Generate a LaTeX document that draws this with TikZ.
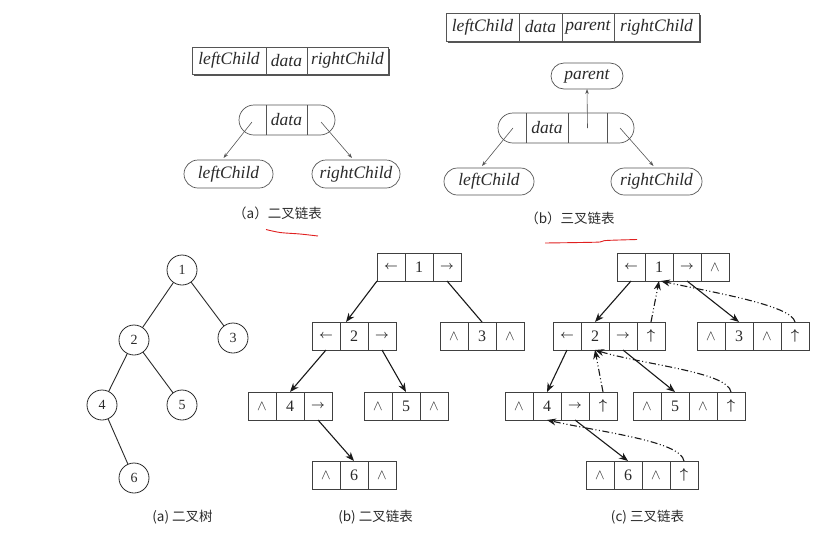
\documentclass[tikz,border=0pt]{standalone}
\usepackage{fontspec}
\setmainfont{Liberation Serif}
\newfontfamily\cjk{Noto Sans CJK SC}
\usetikzlibrary{arrows.meta,shapes.misc}
\definecolor{linegray}{HTML}{555555}
\definecolor{txtgray}{HTML}{2A2A2A}
\definecolor{cellgray}{HTML}{404040}
\definecolor{redline}{HTML}{E02020}
\newcommand\myla{{\fontsize{12.5}{13}\selectfont\boldmath$\leftarrow$}}
\newcommand\myra{{\fontsize{12.5}{13}\selectfont\boldmath$\rightarrow$}}
\newcommand\mywg{{\fontsize{14.5}{15}\selectfont$\wedge$}}
\newcommand\myup{{\fontsize{13.5}{14}\selectfont\boldmath$\uparrow$}}
\begin{document}
\begin{tikzpicture}[x=1pt,y=-1pt,
  every node/.style={inner sep=0pt, outer sep=0pt},
  itx/.style={font=\fontsize{17.5}{20}\selectfont\itshape, text=txtgray},
  topcell/.style={itx, draw=linegray, line width=0.7pt, minimum height=28pt},
  pill/.style={itx, draw=linegray, line width=0.7pt, rounded rectangle, minimum height=28pt},
  divider/.style={draw=linegray, line width=0.7pt},
  cell/.style={draw=cellgray, line width=0.75pt, minimum width=28pt, minimum height=28pt,
    font=\fontsize{16}{18}\selectfont, text=txtgray},
  tnode/.style={circle, draw=txtgray, minimum size=30pt, line width=0.8pt,
    font=\fontsize{14}{16}\selectfont, text=txtgray},
  treeline/.style={draw=txtgray, line width=0.9pt},
  plainlink/.style={draw=black!90, line width=1.1pt},
  link/.style={plainlink, -{Stealth[length=9pt,width=7pt]}},
  plink/.style={link, dash pattern=on 7pt off 2.5pt on 1pt off 2.5pt on 1pt off 2.5pt},
  thinarrow/.style={-{Stealth[length=5pt,width=3.5pt]}, line width=0.6pt, draw=linegray},
  captxt/.style={font=\cjk\fontsize{13.5}{15}\selectfont, text=txtgray},
  hand/.style={draw=redline, line width=0.9pt}
]
\useasboundingbox (0,0) rectangle (830,536);

% ---------- top (a) ----------
\node[topcell, minimum width=74pt, minimum height=27pt] (atl) at (229,60.5) {leftChild};
\node[topcell, minimum width=41pt, minimum height=27pt] (atd) at (286.5,60.5) {data};
\node[topcell, minimum width=81pt, minimum height=27pt] (atr) at (347.5,60.5) {rightChild};
\draw[linegray, line width=0.6pt] ([xshift=1.5pt,yshift=-1.5pt]atl.south west) -- ([xshift=1.5pt,yshift=-1.5pt]atr.south east) -- ([xshift=1.5pt,yshift=-1.5pt]atr.north east);

\node[pill, minimum width=96pt, minimum height=30pt] (an) at (287,120) {};
\node[itx, minimum width=41pt, minimum height=30pt] (and) at (286.5,120) {data};
\draw[divider] (and.north west) -- (and.south west) (and.north east) -- (and.south east);
\node[pill, minimum width=89pt] (alc) at (228.5,174) {leftChild};
\node[pill, minimum width=88pt] (arc) at (356,174) {rightChild};
\draw[thinarrow] ([xshift=13pt,yshift=-2pt]an.west) -- ([xshift=-5pt,yshift=2pt]alc.north);
\draw[thinarrow] ([xshift=-14pt,yshift=-2pt]an.east) -- ([xshift=-4pt,yshift=2pt]arc.north);
\node[captxt] (acap) at (277.5,213) {（a）二叉链表};
\draw[hand] plot[smooth] coordinates {(266,229.5) (280,232.5) (300,234) (318,236)};

% ---------- top (b) ----------
\node[topcell, minimum width=73pt] (btl) at (482.5,27) {leftChild};
\node[topcell, minimum width=43pt] (btd) at (540.5,27) {data};
\node[topcell, minimum width=52pt] (btp) at (588,27) {parent};
\node[topcell, minimum width=85pt] (btr) at (656.5,27) {rightChild};
\draw[linegray, line width=0.6pt] ([xshift=1.5pt,yshift=-1.5pt]btl.south west) -- ([xshift=1.5pt,yshift=-1.5pt]btr.south east) -- ([xshift=1.5pt,yshift=-1.5pt]btr.north east);

\node[pill, minimum width=136pt, minimum height=30pt] (bn) at (566,128) {};
\node[itx, minimum width=42pt, minimum height=30pt] (bnd) at (547,128) {data};
\node[minimum width=39pt, minimum height=30pt] (bnp) at (587.5,128) {};
\draw[divider] (bnd.north west) -- (bnd.south west) (bnd.north east) -- (bnd.south east)
  (bnp.north east) -- (bnp.south east);
\node[pill, minimum width=72pt, minimum height=26pt] (bpar) at (587,76) {parent};
\node[pill, minimum width=90pt, minimum height=27pt] (blc) at (489,181.5) {leftChild};
\node[pill, minimum width=91pt, minimum height=27pt] (brc) at (656.5,181.5) {rightChild};
\draw[thinarrow] (bnp.center) -- (bpar.south);
\draw[thinarrow] ([xshift=15pt]bn.west) -- ([xshift=-7pt,yshift=2pt]blc.north);
\draw[thinarrow] ([xshift=-14pt]bn.east) -- ([xshift=-3pt,yshift=2pt]brc.north);
\node[captxt] (bcap) at (570,218) {（b）三叉链表};
\draw[hand] plot[smooth] coordinates {(545,243) (580,242.5) (600,242) (606,240.5) (637,239.5)};

% ---------- bottom (a) tree ----------
\node[tnode] (t1) at (182,270) {1};
\node[tnode] (t2) at (134,340) {2};
\node[tnode] (t3) at (233,338) {3};
\node[tnode] (t4) at (102,405) {4};
\node[tnode] (t5) at (182,405) {5};
\node[tnode] (t6) at (134,478) {6};
\draw[treeline] (t1) -- (t2);
\draw[treeline] (t1) -- (t3);
\draw[treeline] (t2) -- (t4);
\draw[treeline] (t2) -- (t5);
\draw[treeline] (t4) -- (t6);
\node[captxt] (tcap) at (182.5,517) {(a) 二叉树};

% ---------- bottom (b) binary linked list ----------
\node[cell] (b1a) at (391,267) {\myla};
\node[cell] (b1b) at (419,267) {1};
\node[cell] (b1c) at (447,267) {\myra};
\node[cell] (b2a) at (326,336) {\myla};
\node[cell] (b2b) at (354,336) {2};
\node[cell] (b2c) at (382,336) {\myra};
\node[cell] (b3a) at (454,336) {\mywg};
\node[cell] (b3b) at (482,336) {3};
\node[cell] (b3c) at (510,336) {\mywg};
\node[cell] (b4a) at (262,406) {\mywg};
\node[cell] (b4b) at (290,406) {4};
\node[cell] (b4c) at (318,406) {\myra};
\node[cell] (b5a) at (378,406) {\mywg};
\node[cell] (b5b) at (406,406) {5};
\node[cell] (b5c) at (434,406) {\mywg};
\node[cell] (b6a) at (326,475) {\mywg};
\node[cell] (b6b) at (354,475) {6};
\node[cell] (b6c) at (382,475) {\mywg};
\draw[link] (b1a.south west) -- ([xshift=-8pt]b2b.north);
\draw[plainlink] (b1c.south) -- (b3b.north);
\draw[link] (b2a.south) -- (b4b.north);
\draw[link] (b2c.south) -- (b5b.north);
\draw[link] (b4c.south) -- (b6b.north);
\node[captxt] (bbcap) at (375.5,517) {(b) 二叉链表};

% ---------- bottom (c) trinary linked list ----------
\node[cell] (c1a) at (631,267) {\myla};
\node[cell] (c1b) at (659,267) {1};
\node[cell] (c1c) at (687,267) {\myra};
\node[cell] (c1d) at (715,267) {\mywg};
\node[cell] (c2a) at (567,336) {\myla};
\node[cell] (c2b) at (595,336) {2};
\node[cell] (c2c) at (623,336) {\myra};
\node[cell] (c2d) at (651,336) {\myup};
\node[cell] (c3a) at (711,336) {\mywg};
\node[cell] (c3b) at (739,336) {3};
\node[cell] (c3c) at (767,336) {\mywg};
\node[cell] (c3d) at (795,336) {\myup};
\node[cell] (c4a) at (519,406) {\mywg};
\node[cell] (c4b) at (547,406) {4};
\node[cell] (c4c) at (575,406) {\myra};
\node[cell] (c4d) at (603,406) {\myup};
\node[cell] (c5a) at (647,406) {\mywg};
\node[cell] (c5b) at (675,406) {5};
\node[cell] (c5c) at (703,406) {\mywg};
\node[cell] (c5d) at (731,406) {\myup};
\node[cell] (c6a) at (600,475) {\mywg};
\node[cell] (c6b) at (628,475) {6};
\node[cell] (c6c) at (656,475) {\mywg};
\node[cell] (c6d) at (684,475) {\myup};
\draw[link] (c1a.south) -- (c2b.north);
\draw[link] (c1c.south) -- (c3b.north);
\draw[link] (c2a.south) -- (c4b.north);
\draw[link] (c2c.south) -- (c5b.north);
\draw[link] (c4c.south) -- (c6b.north);
\draw[plink] (c2d.north) -- (c1b.south);
\draw[plink] (c3d.north) .. controls +(-3,-17) and +(49,11) .. ([xshift=2pt]c1b.south);
\draw[plink] (c4d.north) -- (c2b.south);
\draw[plink] (c5d.north) .. controls +(-3,-20) and +(50,15) .. (c2b.south);
\draw[plink] (c6d.north) .. controls +(-3,-20) and +(53,12) .. (c4b.south);
\node[captxt] (ccap) at (647.5,517) {(c) 三叉链表};
\end{tikzpicture}
\end{document}
